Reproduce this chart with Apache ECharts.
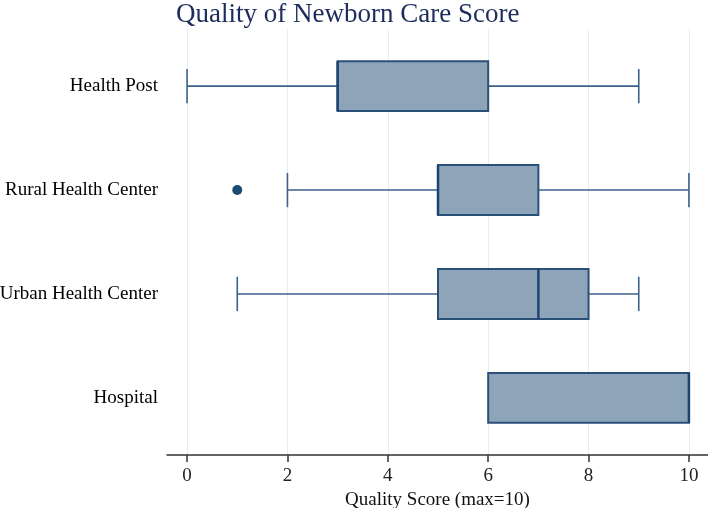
<!DOCTYPE html>
<html>
<head>
<meta charset="utf-8">
<script src="https://cdn.jsdelivr.net/npm/echarts@6/dist/echarts.min.js"></script>
<style>html,body{margin:0;padding:0;background:#fff}#c{width:708px;height:508px}</style>
</head>
<body>
<div id="c"></div>
<script>
var titleText = 'Quality of Newborn Care Score';
var categories = ['Health Post', 'Rural Health Center', 'Urban Health Center', 'Hospital'];
var mins    = [0, 2, 1, 6];
var q1s     = [3, 5, 5, 6];
var medians = [3, 5, 7, 10];
var q3s     = [6, 7, 8, 10];
var maxs    = [9, 10, 9, 10];
var outlierCats   = [1];
var outlierValues = [1];
var xTicks = [0, 2, 4, 6, 8, 10];
var xName = 'Quality Score (max=10)';

var boxData = categories.map(function (c, i) {
  return [i, mins[i], q1s[i], medians[i], q3s[i], maxs[i]];
});
var outData = outlierCats.map(function (c, i) { return [outlierValues[i], c]; });

var FONT = '"Liberation Serif", "Times New Roman", serif';
var chart = echarts.init(document.getElementById('c'), null, {renderer: 'canvas'});
chart.setOption({
  backgroundColor: '#fff',
  animation: false,
  title: {
    text: titleText, left: 176, top: 1, padding: 0,
    textStyle: {fontFamily: FONT, fontSize: 27, fontWeight: 'normal', color: '#1c2c5c'}
  },
  grid: {left: 167, right: 0, top: 29, bottom: 53, containLabel: false, outerBoundsMode: 'none'},
  xAxis: {
    type: 'value', min: -0.4, max: 10.38,
    name: xName, nameLocation: 'middle', nameGap: 34,
    nameTextStyle: {fontFamily: FONT, fontSize: 19, color: '#111'},
    axisLine: {show: true, onZero: false, lineStyle: {color: '#333', width: 1.5}},
    axisTick: {show: true, length: 7, customValues: xTicks, lineStyle: {color: '#333', width: 1.5}},
    axisLabel: {customValues: xTicks, margin: 12, fontFamily: FONT, fontSize: 19, color: '#222'},
    splitLine: {show: true, lineStyle: {color: '#e4eef1', width: 1}}
  },
  yAxis: {
    type: 'value', min: -0.55, max: 3.55, inverse: true,
    axisLine: {show: false}, axisTick: {show: false}, splitLine: {show: false},
    axisLabel: {
      customValues: [0, 1, 2, 3], margin: 9,
      fontFamily: FONT, fontSize: 19, color: '#000',
      formatter: function (v) { return categories[Math.round(v)] || ''; }
    }
  },
  series: [{
    type: 'custom',
    data: boxData,
    encode: {x: [1, 2, 3, 4, 5], y: 0},
    renderItem: function (params, api) {
      var ci = api.value(0);
      var pMin = api.coord([api.value(1), ci]);
      var pQ1 = api.coord([api.value(2), ci]);
      var pMed = api.coord([api.value(3), ci]);
      var pQ3 = api.coord([api.value(4), ci]);
      var pMax = api.coord([api.value(5), ci]);
      var band = api.size([0, 1])[1];
      var bh = band * 0.48, ch = band * 0.33;
      var y = pMed[1];
      var wStyle = {stroke: '#3b6189', lineWidth: 1.6, fill: null};
      var kids = [];
      if (pMin[0] < pQ1[0]) {
        kids.push({type: 'line', shape: {x1: pMin[0], y1: y, x2: pQ1[0], y2: y}, style: wStyle});
        kids.push({type: 'line', shape: {x1: pMin[0], y1: y - ch / 2, x2: pMin[0], y2: y + ch / 2}, style: wStyle});
      }
      if (pMax[0] > pQ3[0]) {
        kids.push({type: 'line', shape: {x1: pQ3[0], y1: y, x2: pMax[0], y2: y}, style: wStyle});
        kids.push({type: 'line', shape: {x1: pMax[0], y1: y - ch / 2, x2: pMax[0], y2: y + ch / 2}, style: wStyle});
      }
      kids.push({type: 'rect', shape: {x: pQ1[0], y: y - bh / 2, width: pQ3[0] - pQ1[0], height: bh},
        style: {fill: '#8ea4b8', stroke: '#2b5078', lineWidth: 2}});
      kids.push({type: 'line', shape: {x1: pMed[0], y1: y - bh / 2, x2: pMed[0], y2: y + bh / 2},
        style: {stroke: '#1d4470', lineWidth: 2.5}});
      return {type: 'group', children: kids};
    }
  }, {
    type: 'scatter',
    data: outData,
    symbol: 'circle', symbolSize: 10,
    itemStyle: {color: '#1b4a73', opacity: 1}
  }]
});
</script>
</body>
</html>
